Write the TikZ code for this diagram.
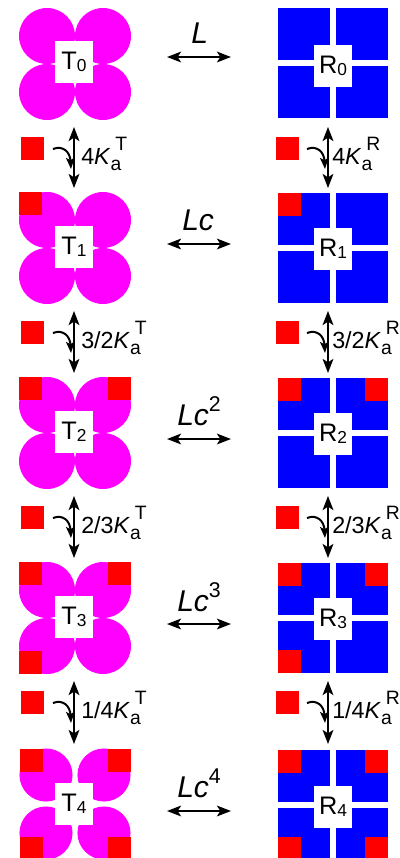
\documentclass[tikz,border=0pt]{standalone}
\usepackage{fontspec}
\setmainfont{Liberation Sans}
\usetikzlibrary{arrows.meta}
\definecolor{tmag}{RGB}{255,0,255}
\definecolor{rblue}{RGB}{0,0,255}
\definecolor{rred}{RGB}{255,0,0}
\tikzset{
  box/.style={fill=white, minimum width=28.5pt, minimum height=31.5pt, inner sep=0pt, font=\fontsize{19}{19}\selectfont},
  dblarrow/.style={line width=1.7pt, {Stealth[length=10.5pt,width=8pt,inset=2.5pt]}-{Stealth[length=10.5pt,width=8pt,inset=2.5pt]}},
  bindarrow/.style={line width=1.5pt, -{Stealth[length=8.5pt,width=6.5pt,inset=2pt]}},
  klabel/.style={anchor=base west, inner sep=0pt, font=\fontsize{17.5}{17.5}\selectfont},
  llabel/.style={anchor=base west, inner sep=0pt, font=\fontsize{22.5}{22.5}\selectfont\itshape},
  redsq/.style={fill=rred},
}
\newcommand\bsub[1]{\raisebox{-1.7pt}{\fontsize{13}{13}\selectfont #1}}
\newcommand\lsup[1]{\raisebox{10pt}{\fontsize{16}{16}\selectfont\upshape #1}}
\newcommand\KA[1]{\textit{K}\rlap{\raisebox{-4.5pt}{\fontsize{14.5}{14.5}\selectfont a}}\kern3.5pt\raisebox{10.5pt}{\fontsize{14.5}{14.5}\selectfont #1}}
\newcommand\corners[4]{%
  \ifnum#4>0 \fill[redsq] (#1-#3,#2-#3) rectangle ++(23,23);\fi
  \ifnum#4>1 \fill[redsq] (#1+#3-23,#2-#3) rectangle ++(23,23);\fi
  \ifnum#4>2 \fill[redsq] (#1-#3,#2+#3-23) rectangle ++(23,23);\fi
  \ifnum#4>3 \fill[redsq] (#1+#3-23,#2+#3-23) rectangle ++(23,23);\fi}
% cx cy offset radius(pt) half nred
\newcommand\Tshape[6]{%
  \fill[tmag] (#1-#3,#2-#3) circle[radius=#4];
  \fill[tmag] (#1+#3,#2-#3) circle[radius=#4];
  \fill[tmag] (#1-#3,#2+#3) circle[radius=#4];
  \fill[tmag] (#1+#3,#2+#3) circle[radius=#4];
  \corners{#1}{#2}{#5}{#6}}
\newcommand\Rshape[3]{%
  \fill[rblue] (#1-55,#2-55) rectangle (#1-3,#2-3);
  \fill[rblue] (#1+3,#2-55) rectangle (#1+55,#2-3);
  \fill[rblue] (#1-55,#2+3) rectangle (#1-3,#2+55);
  \fill[rblue] (#1+3,#2+3) rectangle (#1+55,#2+55);
  \corners{#1}{#2}{55}{#3}}
\begin{document}
\begin{tikzpicture}[x=0.75pt,y=-0.75pt]
\useasboundingbox (0,0) rectangle (400,858);
% shapes
\Tshape{75}{64}{28}{21pt}{56}{0}
\Tshape{75}{248}{28}{21pt}{56}{1}
\Tshape{75}{433}{28}{21pt}{56}{2}
\Tshape{75}{618}{28}{21pt}{56}{3}
\Tshape{75}{804}{29}{19.9pt}{55.5}{4}
\Rshape{333}{63}{0}
\Rshape{333}{248}{1}
\Rshape{333}{433}{2}
\Rshape{333}{618}{3}
\Rshape{333}{805}{4}
% state labels
\node[box] (T0) at (74,62) {T\bsub{0}};
\node[box] (T1) at (74,247) {T\bsub{1}};
\node[box] (T2) at (74,432) {T\bsub{2}};
\node[box] (T3) at (74,617) {T\bsub{3}};
\node[box] (T4) at (74,804) {T\bsub{4}};
\node[box] (R0) at (333,66) {R\bsub{0}};
\node[box] (R1) at (333,249) {R\bsub{1}};
\node[box] (R2) at (333,434) {R\bsub{2}};
\node[box] (R3) at (333,619) {R\bsub{3}};
\node[box] (R4) at (333,807) {R\bsub{4}};
% horizontal equilibria
\foreach \k/\y in {0/57,1/244,2/439,3/624,4/811}{
  \coordinate (hl\k) at (167,\y);
  \coordinate (hr\k) at (231,\y);
  \draw[dblarrow] (hl\k) -- (hr\k);
}
\node[llabel] (L0) at (191,43) {L};
\node[llabel] (L1) at (182,230) {Lc};
\node[llabel] (L2) at (177,425) {Lc\lsup{2}};
\node[llabel] (L3) at (177,611) {Lc\lsup{3}};
\node[llabel] (L4) at (177,797) {Lc\lsup{4}};
% vertical binding steps
\foreach \k/\yt/\yb/\ys in {0/127/188/64,1/311/373/248,2/496/558/433,3/681/744/618}{
  \coordinate (tva\k) at (74,\yt);
  \coordinate (tvb\k) at (74,\yb);
  \draw[dblarrow] (tva\k) -- (tvb\k);
  \coordinate (rva\k) at (328,\yt);
  \coordinate (rvb\k) at (328,\yb);
  \draw[dblarrow] (rva\k) -- (rvb\k);
  \fill[redsq] (21,\ys+73) rectangle ++(23,23);
  \fill[redsq] (276,\ys+73) rectangle ++(23,23);
  \coordinate (tcs\k) at (53,\ys+85);
  \coordinate (tce\k) at (71,\ys+105);
  \draw[bindarrow] (tcs\k) .. controls (63,\ys+81) and (70,\ys+88) .. (tce\k);
  \coordinate (rcs\k) at (307,\ys+85);
  \coordinate (rce\k) at (325,\ys+105);
  \draw[bindarrow] (rcs\k) .. controls (317,\ys+81) and (324,\ys+88) .. (rce\k);
}
\node[klabel] (kt0) at (81,164) {4\KA{T}};
\node[klabel] (kt1) at (81,348) {3/2\KA{T}};
\node[klabel] (kt2) at (81,533) {2/3\KA{T}};
\node[klabel] (kt3) at (81,718) {1/4\KA{T}};
\node[klabel] (kr0) at (332,164) {4\KA{R}};
\node[klabel] (kr1) at (332,348) {3/2\KA{R}};
\node[klabel] (kr2) at (332,533) {2/3\KA{R}};
\node[klabel] (kr3) at (332,718) {1/4\KA{R}};
\end{tikzpicture}
\end{document}
